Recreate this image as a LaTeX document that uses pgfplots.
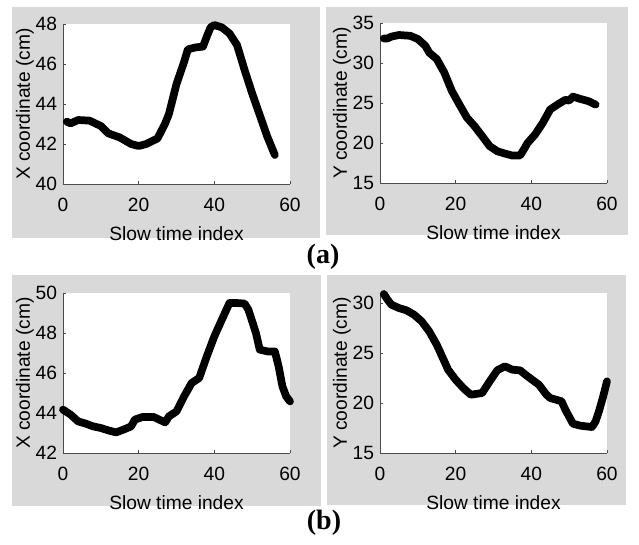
\documentclass[border=0pt]{standalone}
\usepackage{pgfplots}
\pgfplotsset{compat=1.18}
\usepackage{fontspec}
\setmainfont{Liberation Sans}
\newfontfamily\tnr{Liberation Serif}
\definecolor{bgg}{RGB}{217,217,217}
\pgfplotsset{
  panel/.style={
    scale only axis, width=170.25pt, height=120pt,
    axis x line*=bottom, axis y line*=left,
    axis line style={-,black!70, line width=0.6pt},
    axis background/.style={fill=white},
    xmin=0, xmax=60, xtick={0,20,40,60},
    tick align=inside, major tick length=2pt,
    tick style={black!70, line width=0.5pt},
    /pgf/number format/assume math mode=true,
    tick label style={font=\fontsize{14.4}{16}\selectfont},
    label style={font=\fontsize{14.4}{16}\selectfont},
    xlabel={Slow time index},
    xticklabel style={yshift=-7pt},
    yticklabel style={xshift=-1pt},
    xlabel style={yshift=-4.5pt},
    ylabel style={yshift=-5.5pt},
    clip=false,
  },
  curve/.style={black, line width=5.8pt, line join=round, line cap=round},
}
\begin{document}
\begin{tikzpicture}
\begin{scope}[x=0.75pt,y=-0.75pt]
\path (0,0) rectangle (639,544);
\fill[bgg] (12,7) rectangle (320,238);
\fill[bgg] (326,7) rectangle (628,235);
\fill[bgg] (12,275) rectangle (321,506);
\fill[bgg] (327,275) rectangle (626,505);
\node[font=\tnr\bfseries\fontsize{21}{24}\selectfont] at (323,257) {(a)};
\node[font=\tnr\bfseries\fontsize{21}{24}\selectfont] at (324,523) {(b)};
\end{scope}

\begin{axis}[panel, at={(47.25pt,-138pt)}, anchor=south west,
  ymin=40, ymax=48, ytick={40,42,44,46,48}, ylabel={X coordinate (cm)}]
\addplot[curve] coordinates {(1,43.12)(2,43.03)(4,43.2)(7,43.17)(10,42.9)(12,42.53)(15,42.33)(18,42.0)(20,41.9)(22,42.0)(25,42.28)(27,43.03)(28,43.5)(30,45.0)(32,46.1)(33,46.73)(35,46.83)(37,46.87)(38,47.37)(39,47.83)(40,47.95)(42,47.83)(44,47.53)(46,46.95)(48,45.7)(50,44.53)(52,43.45)(54,42.37)(56,41.45)};
\end{axis}

\begin{axis}[panel, at={(285pt,-137.25pt)}, anchor=south west,
  ymin=15, ymax=35, ytick={15,20,25,30,35}, ylabel={Y coordinate (cm)}]
\addplot[curve] coordinates {(1,33.07)(2,33.07)(3,33.3)(5,33.5)(8,33.4)(10,33.0)(12,32.15)(13,31.3)(15,30.5)(17,28.8)(19,26.5)(21,24.8)(23,23.16)(25,22.1)(27,20.86)(29,19.6)(31,18.97)(33,18.68)(35,18.43)(37,18.43)(38,19.18)(39,20.0)(41,21.07)(43,22.5)(45,24.2)(47,24.83)(49,25.4)(50,25.3)(51,25.8)(53,25.5)(55,25.25)(57,24.8)};
\end{axis}

\begin{axis}[panel, at={(47.25pt,-339.75pt)}, anchor=south west,
  ymin=42, ymax=50, ytick={42,44,46,48,50}, ylabel={X coordinate (cm)}]
\addplot[curve] coordinates {(0,44.17)(2,43.92)(4,43.58)(6,43.47)(8,43.33)(10,43.25)(12,43.13)(14,43.03)(16,43.17)(18,43.33)(19,43.67)(21,43.8)(24,43.8)(27,43.53)(28,43.83)(30,44.08)(32,44.83)(34,45.5)(36,45.75)(38,46.83)(40,47.83)(42,48.67)(44,49.5)(46,49.5)(48,49.47)(49,49.17)(51,48.0)(52,47.17)(54,47.08)(56,47.08)(57,46.33)(58,45.33)(59,44.83)(60,44.58)};
\end{axis}

\begin{axis}[panel, at={(285pt,-339.75pt)}, anchor=south west,
  ymin=15, ymax=31, ytick={15,20,25,30}, ylabel={Y coordinate (cm)}]
\addplot[curve] coordinates {(1,30.9)(2,30.33)(3,29.83)(5,29.5)(7,29.27)(9,28.83)(11,28.17)(13,27.17)(15,25.83)(17,24.17)(18,23.33)(20,22.33)(22,21.5)(24,20.83)(27,21.0)(29,22.17)(31,23.27)(33,23.67)(35,23.33)(37,23.27)(39,22.67)(42,21.83)(44,20.83)(45,20.5)(48,20.17)(49,19.33)(51,17.93)(53,17.73)(56,17.6)(57,18.17)(58,19.33)(59,20.67)(60,22.17)};
\end{axis}
\end{tikzpicture}
\end{document}
